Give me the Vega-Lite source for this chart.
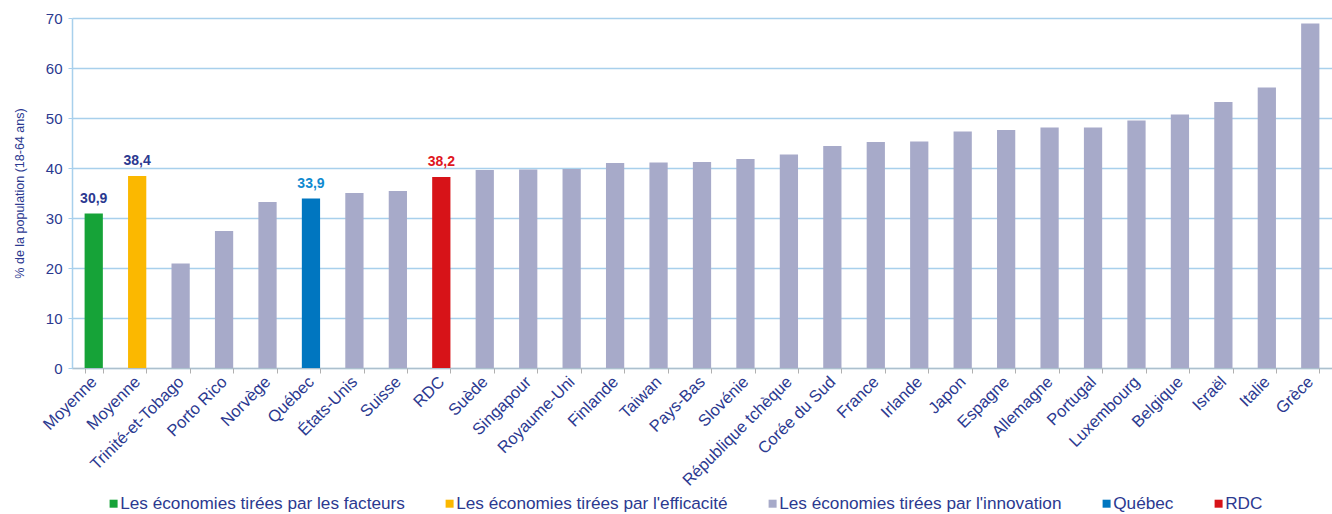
{
  "$schema": "https://vega.github.io/schema/vega-lite/v6.json",
  "width": 1260,
  "height": 350,
  "autosize": {"type": "none"},
  "padding": {"left": 72, "top": 18, "right": 0, "bottom": 146},
  "background": "white",
  "config": {
    "font": "Liberation Sans",
    "view": {"stroke": null},
    "locale": {"number": {"decimal": ",", "thousands": " ", "grouping": [3], "currency": ["", " €"]}}
  },
  "data": {
    "values": [
      {"pays": "Moyenne", "valeur": 30.9, "groupe": "Les économies tirées par les facteurs"},
      {"pays": "Moyenne ", "valeur": 38.4, "groupe": "Les économies tirées par l'efficacité"},
      {"pays": "Trinité-et-Tobago", "valeur": 20.9, "groupe": "Les économies tirées par l'innovation"},
      {"pays": "Porto Rico", "valeur": 27.4, "groupe": "Les économies tirées par l'innovation"},
      {"pays": "Norvège", "valeur": 33.2, "groupe": "Les économies tirées par l'innovation"},
      {"pays": "Québec", "valeur": 33.9, "groupe": "Québec"},
      {"pays": "États-Unis", "valeur": 35.0, "groupe": "Les économies tirées par l'innovation"},
      {"pays": "Suisse", "valeur": 35.4, "groupe": "Les économies tirées par l'innovation"},
      {"pays": "RDC", "valeur": 38.2, "groupe": "RDC"},
      {"pays": "Suède", "valeur": 39.6, "groupe": "Les économies tirées par l'innovation"},
      {"pays": "Singapour", "valeur": 39.7, "groupe": "Les économies tirées par l'innovation"},
      {"pays": "Royaume-Uni", "valeur": 39.8, "groupe": "Les économies tirées par l'innovation"},
      {"pays": "Finlande", "valeur": 41.0, "groupe": "Les économies tirées par l'innovation"},
      {"pays": "Taiwan", "valeur": 41.1, "groupe": "Les économies tirées par l'innovation"},
      {"pays": "Pays-Bas", "valeur": 41.2, "groupe": "Les économies tirées par l'innovation"},
      {"pays": "Slovénie", "valeur": 41.8, "groupe": "Les économies tirées par l'innovation"},
      {"pays": "République tchèque", "valeur": 42.7, "groupe": "Les économies tirées par l'innovation"},
      {"pays": "Corée du Sud", "valeur": 44.4, "groupe": "Les économies tirées par l'innovation"},
      {"pays": "France", "valeur": 45.2, "groupe": "Les économies tirées par l'innovation"},
      {"pays": "Irlande", "valeur": 45.3, "groupe": "Les économies tirées par l'innovation"},
      {"pays": "Japon", "valeur": 47.3, "groupe": "Les économies tirées par l'innovation"},
      {"pays": "Espagne", "valeur": 47.6, "groupe": "Les économies tirées par l'innovation"},
      {"pays": "Allemagne", "valeur": 48.1, "groupe": "Les économies tirées par l'innovation"},
      {"pays": "Portugal", "valeur": 48.1, "groupe": "Les économies tirées par l'innovation"},
      {"pays": "Luxembourg", "valeur": 49.5, "groupe": "Les économies tirées par l'innovation"},
      {"pays": "Belgique", "valeur": 50.7, "groupe": "Les économies tirées par l'innovation"},
      {"pays": "Israël", "valeur": 53.2, "groupe": "Les économies tirées par l'innovation"},
      {"pays": "Italie", "valeur": 56.1, "groupe": "Les économies tirées par l'innovation"},
      {"pays": "Grèce", "valeur": 68.9, "groupe": "Les économies tirées par l'innovation"}
    ]
  },
  "encoding": {
    "x": {
      "field": "pays",
      "type": "nominal",
      "sort": null,
      "scale": {"paddingInner": 0.58, "paddingOuter": 0.29},
      "axis": {
        "title": null,
        "labelAngle": -45,
        "labelAlign": "right",
        "labelBaseline": "middle",
        "labelFontSize": 16.5,
        "labelColor": "#2b3990",
        "labelPadding": 6,
        "labelLimit": 300,
        "tickBand": "extent",
        "tickColor": "#b0b0b0",
        "tickSize": 5,
        "domainColor": "#b0b0b0",
        "domainDash": [1, 1],
        "domainWidth": 1.5
      }
    },
    "y": {
      "field": "valeur",
      "type": "quantitative",
      "scale": {"domain": [0, 70]},
      "axis": {
        "title": "% de la population (18-64 ans)",
        "titleFontSize": 12.5,
        "titleFontWeight": "normal",
        "titleColor": "#2b3990",
        "titlePadding": 19,
        "values": [0, 10, 20, 30, 40, 50, 60, 70],
        "labelFontSize": 15,
        "labelColor": "#2b3990",
        "labelPadding": 6,
        "tickColor": "#a8d0ec",
        "tickSize": 4,
        "domainColor": "#a8d0ec",
        "domainWidth": 1.5,
        "gridColor": "#a8d0ec",
        "gridWidth": 1.5
      }
    }
  },
  "layer": [
    {
      "mark": {"type": "bar"},
      "encoding": {
        "color": {
          "field": "groupe",
          "type": "nominal",
          "scale": {
            "domain": ["Les économies tirées par les facteurs", "Les économies tirées par l'efficacité", "Les économies tirées par l'innovation", "Québec", "RDC"],
            "range": ["#16a338", "#fbb800", "#a7aac9", "#0076c0", "#d71318"]
          },
          "legend": {
            "title": null,
            "orient": "none",
            "legendX": 33,
            "legendY": 477,
            "direction": "horizontal",
            "columns": 5,
            "columnPadding": 36,
            "symbolType": "square",
            "symbolSize": 64,
            "symbolStrokeWidth": 0,
            "labelFontSize": 17.2,
            "labelColor": "#2b3990",
            "labelOffset": -2,
            "labelLimit": 400
          }
        }
      }
    },
    {
      "transform": [{"filter": "datum.groupe !== \"Les économies tirées par l'innovation\""}],
      "mark": {"type": "text", "fontWeight": "bold", "fontSize": 14, "dy": -8, "baseline": "bottom"},
      "encoding": {
        "text": {"field": "valeur", "type": "quantitative", "format": ".1f"},
        "color": {
          "condition": [
            {"test": "datum.groupe === 'Québec'", "value": "#0f8ad0"},
            {"test": "datum.groupe === 'RDC'", "value": "#e0161e"}
          ],
          "value": "#2b3990"
        }
      }
    }
  ]
}
